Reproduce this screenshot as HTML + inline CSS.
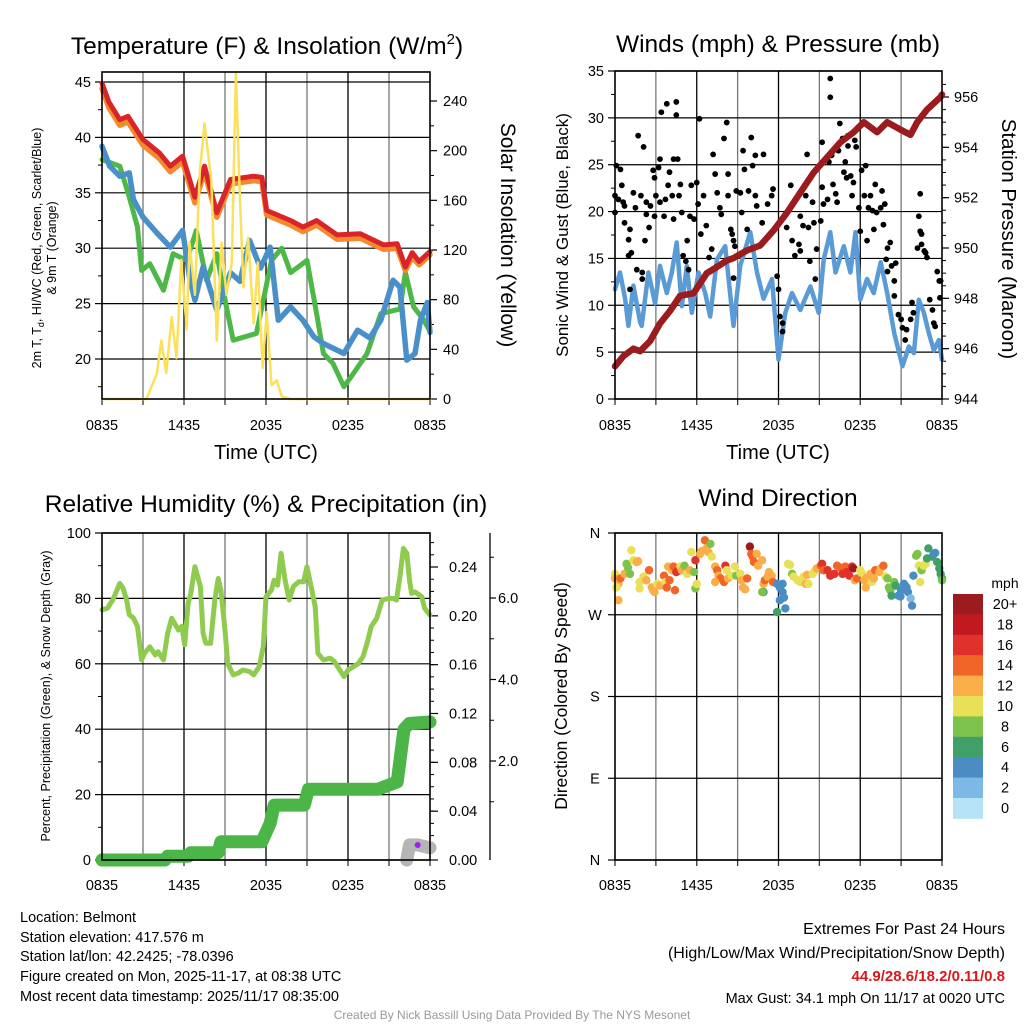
<!DOCTYPE html>
<html><head><meta charset="utf-8"><title>Belmont Meteogram</title>
<style>
html,body{margin:0;padding:0;background:#fff;}
svg{display:block;font-family:"Liberation Sans",Arial,sans-serif;}
</style></head>
<body>
<svg id="chart" width="1024" height="1024" viewBox="0 0 1024 1024" xmlns="http://www.w3.org/2000/svg">
<rect x="0" y="0" width="1024" height="1024" fill="#fff"/>
<text x="267" y="54" font-size="24.5" text-anchor="middle">Temperature (F) &amp; Insolation (W/m<tspan dy="-10" font-size="15">2</tspan><tspan dy="10">)</tspan></text>
<text x="778" y="52" font-size="24.5" text-anchor="middle">Winds (mph) &amp; Pressure (mb)</text>
<text x="266" y="512" font-size="24.5" text-anchor="middle">Relative Humidity (%) &amp; Precipitation (in)</text>
<text x="778" y="506" font-size="24.5" text-anchor="middle">Wind Direction</text>

<text x="266" y="459" font-size="20" text-anchor="middle">Time (UTC)</text>
<text x="778" y="459" font-size="20" text-anchor="middle">Time (UTC)</text>

<text transform="translate(41,248) rotate(-90)" font-size="12.5" text-anchor="middle">2m T, T<tspan font-size="9" dy="3">d</tspan><tspan dy="-3">, HI/WC (Red, Green, Scarlet/Blue)</tspan></text>
<text transform="translate(56,248) rotate(-90)" font-size="12.5" text-anchor="middle">&amp; 9m T (Orange)</text>
<text transform="translate(501,235) rotate(90)" font-size="21" text-anchor="middle">Solar Insolation (Yellow)</text>
<text transform="translate(568,235) rotate(-90)" font-size="17" text-anchor="middle">Sonic Wind &amp; Gust (Blue, Black)</text>
<text transform="translate(1002,239) rotate(90)" font-size="20.5" text-anchor="middle">Station Pressure (Maroon)</text>
<text transform="translate(50,696) rotate(-90)" font-size="12.5" text-anchor="middle">Percent, Precipitation (Green), &amp; Snow Depth (Gray)</text>
<text transform="translate(567,696) rotate(-90)" font-size="17.5" text-anchor="middle">Direction (Colored By Speed)</text>

<g font-size="14.5">
<text x="20" y="922">Location: Belmont</text>
<text x="20" y="942">Station elevation: 417.576 m</text>
<text x="20" y="961">Station lat/lon: 42.2425; -78.0396</text>
<text x="20" y="981">Figure created on Mon, 2025-11-17, at 08:38 UTC</text>
<text x="20" y="1001">Most recent data timestamp: 2025/11/17 08:35:00</text>
</g>
<g text-anchor="end">
<text x="1005" y="934" font-size="16">Extremes For Past 24 Hours</text>
<text x="1005" y="958" font-size="16">(High/Low/Max Wind/Precipitation/Snow Depth)</text>
<text x="1005" y="981" font-size="15" font-weight="bold" fill="#d7191c">44.9/28.6/18.2/0.11/0.8</text>
<text x="1005" y="1003" font-size="14.5">Max Gust: 34.1 mph On 11/17 at 0020 UTC</text>
</g>
<text x="512" y="1019" font-size="12" fill="#999" text-anchor="middle">Created By Nick Bassill Using Data Provided By The NYS Mesonet</text>
<text x="1005" y="588" font-size="14" text-anchor="middle">mph</text>
</svg>
<script>
// ---------- DATA ----------
const timeTickLabels = ["0835","1435","2035","0235","0835"];
const redHours = [0,0.5,1.3,1.9,3,4.2,5,5.9,6.8,7.5,8.4,9.4,11.1,11.7,12.05,13.8,14.7,15.7,17.2,18.9,20.6,21.6,22.2,22.7,23.2,24];
const redTemp = [44.9,43.2,41.6,41.9,39.8,38.6,37.4,38.3,34.6,37.4,33.2,36.2,36.5,36.4,33.4,32.5,31.9,32.5,31.2,31.3,30.3,30.4,28.3,29.6,28.8,29.7];
const orangeTemp = [44.4,42.7,41.1,41.4,39.3,38.1,36.9,37.8,34.1,36.9,32.8,35.8,36.1,36.0,33.0,32.1,31.5,32.1,30.8,30.9,29.9,30.0,28.0,29.2,28.5,29.4];
const dewHours = [0,0.56,1.3,2,2.3,3,4,5,5.9,6.4,6.8,7.4,8.4,9.4,10.1,10.8,11.6,12.3,12.9,13.8,14.7,15.5,16.2,17.7,18.7,19.6,20.4,21.3,21.8,22.3,22.9,23.3,23.8,24];
const dewTemp = [39.2,37.4,36.5,36.8,34.4,32.8,31.4,30.1,31.6,27.4,25.3,28.3,24.4,27.8,27,30.7,28.2,30.1,23.5,24.7,23.5,22,21.4,20.5,22.6,21.9,23.5,27.1,26.5,19.9,20.5,23.5,25.1,22.4];
const hiwcHours = [0,1.3,2,2.6,2.9,3.5,4.5,5.2,6.2,6.9,7.65,8.4,9.1,9.6,11.3,11.8,12.4,13.15,13.8,15,15.7,16.2,16.9,17.7,18.4,19.4,20.4,21.8,22.2,22.8,23.5,24];
const hiwcTemp = [38,37.4,34.6,31.9,28,28.6,26.2,29.5,28.9,31.6,27.1,29.5,24.7,21.7,22.3,25.3,28.9,30,27.8,28.9,24.1,20.5,19.6,17.5,18.7,20.5,24.1,24.5,27.8,24.7,23.6,22.5];
const solarHours = [0,3.25,4,4.35,4.7,5.1,5.45,5.8,6.2,6.4,6.8,7.15,7.5,8,8.4,8.75,9.1,9.5,9.8,10.05,10.35,10.7,11.1,11.4,11.75,12.05,12.4,12.8,13.15,13.8,24];
const solarWm2 = [0,0,20,47,21,66,33,112,56,126,84,182,222,176,47,126,84,110,262,176,90,130,61,110,25,70,11,15,2,0,0];
const tempTicks = [20,25,30,35,40,45];
const solarTicks = [0,40,80,120,160,200,240];

const windHours = [0,0.37,0.74,0.98,1.35,1.84,1.96,2.45,2.94,3.3,3.8,4.17,4.53,4.9,5.27,5.64,6.13,6.62,6.99,7.48,8.09,8.7,9.19,9.93,10.42,10.9,11.52,12.0,12.5,12.99,13.6,14.34,14.95,15.32,15.8,16.18,16.79,17.28,17.65,18.0,18.5,18.99,19.5,19.98,20.5,21.1,21.57,21.94,22.3,22.67,23.04,23.4,23.77,24];
const windMph = [11.7,13.5,10.7,7.8,12.1,8.2,7.8,13.5,10.2,14.2,11.3,13.5,16.7,9.9,14.2,9.2,13.5,11.3,8.8,14.9,16.3,7.8,14.2,17.8,13.5,10.7,12.8,4.2,9.2,11.3,9.5,12.0,9.2,14.9,17.8,13.5,16.3,13.5,17.8,10.6,12.8,11.3,14.6,11.3,7.0,3.5,5.6,4.9,10.6,9.2,7.0,5.2,6.3,4.2];
const gustHours = [0,0,0.1,0.4,0.25,0.5,0.6,0.7,0.7,1,1.1,1,1.2,1.1,1.35,1.5,1.7,1.9,1.6,2,2,2.1,2.2,2.3,2.3,2.5,2.6,2.8,2.9,2.9,3,3.2,3.3,3.3,3.4,3.6,3.7,3.8,3.9,4,4.3,4.2,4.3,4.5,4.5,4.6,4.8,4.7,4.9,5,5.2,5.3,5.4,5.5,5.6,5.8,6,6.1,6.2,6.3,6.5,6.7,6.9,7.1,7.2,7.35,7.5,7.7,7.8,8,8.2,8.3,8.3,8.5,8.6,8.7,8.8,8.7,8.9,9.2,9.3,9.4,9.5,9.7,9.8,10,10.1,10.3,10.3,10.4,10.8,10.9,11.2,11.5,11.6,11.9,12,12.1,12.3,12.3,12.6,12.9,13,13.2,13.5,13.6,13.6,13.8,14,14.1,14.2,14.3,14.5,14.6,14.7,14.8,15.1,15.2,15.2,15.3,15.6,15.7,15.8,15.8,15.9,16,16.2,16.3,16.4,16.5,16.7,16.8,16.9,17,17.1,17.1,17.3,17.4,17.5,17.6,17.7,17.9,18,18.1,18.3,18.4,18.5,18.6,18.75,18.9,19,19.1,19.2,19.5,19.6,19.7,19.8,19.9,20,20,20.2,20.3,20.5,20.6,20.5,20.8,21,21.1,21.3,21.4,21.7,21.8,21.9,22.2,22.3,22.4,22.4,22.5,22.5,22.7,22.8,22.9,23.1,23.3,23.4,23.5,23.65,23.8,23.85,23.9];
const gustMph = [19.9,21.7,24.9,24.5,21.3,22.8,21,20.6,18.8,17,18.1,15.3,15.6,11.7,22,20.4,28.1,21.7,13.8,13.5,12.8,26.9,16.9,21,19.7,18.3,20.6,24.4,23.6,19.5,21.7,24.7,25.6,21,30.6,19.5,21.3,31.5,22.8,24.2,19.2,21.7,25.6,31.7,30.3,25.6,22.9,21.7,19.9,15.3,14.7,16.9,13.8,19.5,22.8,19.2,23.1,20.8,29.9,17.6,21.7,18.5,15.1,16,26.1,24,22,20.4,19.7,27.8,29.5,24,21.7,18.1,17.6,16.9,16.3,12.9,22.2,22,19.9,26.5,24.5,18.1,22.2,27.9,24.9,26,21.7,20.6,18.8,26.1,20.8,21.7,22.4,13.1,11.7,8.8,8.1,7.2,18.3,22.8,16.9,15.3,16.5,19.5,15.8,18.5,21.7,26.1,18.3,14.7,21,18.8,12.8,16,19,22.6,27.4,20.8,21.3,25.3,34.2,32.2,26,22.9,21.9,21,26.5,29.4,27.8,24.2,25.3,23.6,28.1,27,23.8,21.7,23.1,27.6,26.9,20.4,17.9,24.4,21.7,24.9,16.9,20.4,21.7,20.1,18.1,22.9,19.9,20.4,22.2,18.6,20.8,14.9,16.1,13.6,16.7,14.2,12.6,14.5,11,9,8.5,7.6,6.3,7.4,8.5,10.3,9.2,16.1,19.5,21.9,17.9,17.6,16.5,15.8,15.6,15.1,10.6,9.5,8.1,7.75,13.6,12.6,10.8,12.6];
const pressHours = [0,0.61,1.35,1.84,2.57,3.3,4.04,4.78,5.76,6.74,7.35,8.2,8.7,9.68,10.66,11.64,12.62,13.6,14.58,15.56,16.54,17.52,18.26,19.24,19.98,20.96,21.69,22.18,22.9,23.9,24];
const pressMb = [945.3,945.7,946,945.9,946.3,947,947.5,948.1,948.2,949,949.2,949.5,949.6,949.9,950.1,950.7,951.4,952.2,953,953.6,954.2,954.6,955,954.6,955,954.7,954.5,955,955.5,956,956.1];
const windTicks = [0,5,10,15,20,25,30,35];
const pressTicks = [944,946,948,950,952,954,956];

const rhHours = [0,0.4,0.8,1.3,1.55,1.8,2,2.3,2.6,2.9,3.1,3.5,3.9,4.1,4.5,4.8,5.1,5.6,5.85,6.05,6.3,6.5,6.8,7.2,7.4,7.6,7.95,8.25,8.5,8.7,9,9.2,9.6,9.95,10.3,10.8,11.1,11.5,11.8,12,12.4,12.6,12.85,13.1,13.4,13.7,14,14.4,14.75,15,15.3,15.6,15.8,16.2,16.7,17,17.4,17.7,18,18.4,18.75,19.1,19.4,19.7,20.1,20.5,21,21.3,21.55,21.8,22.05,22.3,22.5,22.65,22.9,23.4,23.6,24];
const rhPct = [76.5,77,79.6,84.6,83,79.5,75,74,71.4,61.2,63.2,65.2,62.7,63.7,61.2,69.3,73.9,70.3,71.5,65.8,78.5,81.5,89.7,83.6,69.3,66.3,66.3,79.5,86.1,82.6,70.3,60.1,56.6,57.1,58.1,57.6,56.6,59.1,65.2,80.5,82.6,85.6,84,93.8,85.6,79.5,83.6,85.1,85.1,89.7,83.6,77.5,63.2,61.2,61.7,60.7,58.1,56.1,58.1,59.1,60.1,62.2,66.3,71.4,73.9,79.5,80,80,79.5,86.6,95.3,93.8,85.6,81.5,82,80.5,77,74.9];
const precipHours = [0,4.6,4.8,6.3,6.5,8.5,8.7,11.7,11.9,12.3,12.6,14.8,15.1,20.2,21.6,21.9,22.1,22.5,24];
const precipIn = [0,0,0.003,0.003,0.006,0.006,0.015,0.015,0.02,0.03,0.045,0.045,0.058,0.058,0.064,0.09,0.107,0.112,0.113];
const snowHours = [22.3,22.5,23.1,24];
const snowIn = [-0.43,-0.06,-0.06,-0.13];
const rhTicks = [0,20,40,60,80,100];
const precipTicks = [0,0.04,0.08,0.12,0.16,0.20,0.24];
const snowTicks = [2,4,6];

const dirHours = [0,0,0.25,0.4,0.25,0.1,0.7,0.85,0.95,1.1,1.2,1.35,1.6,1.7,1.8,1.8,2.1,2.3,2.5,2.7,2.8,2.9,3.1,3.3,3.6,3.7,3.8,3.9,4.0,4.2,4.3,4.4,4.5,4.6,4.8,4.9,5.1,5.3,5.5,5.6,5.8,5.9,6.0,5.9,6.25,6.35,6.6,6.7,6.85,7.0,7.1,7.35,7.5,7.6,7.75,7.35,8,8.1,8.2,8.3,8.55,8.8,8.9,9.2,9.3,9.4,9.55,9.7,9.9,10,10.1,10.2,10.4,10.5,10.8,10.9,11,11.2,11.3,11.5,11.6,10.9,10.8,11.9,12.1,12.3,12.1,12.4,12.5,11.9,12.3,12.7,12.85,13,13.1,13.4,13.6,13.85,14,14.1,14.2,14.5,14.6,14.8,15.1,15.2,15.3,15.6,15.8,16.1,16.3,16.5,16.7,16.9,17,17.2,17.4,17.5,17.6,17.75,18,18.1,18.3,18.4,18.5,18.75,18.85,19,19.1,19.4,19.5,19.7,19.85,20,20.1,20.2,20.3,20.5,20.6,20.8,20.95,21,21.2,21.3,21.4,21.5,21.7,21.8,21.9,22.1,22.2,22.3,22.4,22.5,22.65,22.8,22.9,23,23.3,23.4,23.5,23.65,23.8,23.9,24,24];
const dirDeg = [315,310,304,310,286,300,315,326,322,315,341,330,328,329,306,299,312,308,319,300,297,295,304,302,313,306,300,323,308,319,323,297,317,318,323,319,324,315,319,339,317,299,304,330,337,340,352,343,339,348,334,323,319,313,310,306,306,324,319,310,313,323,313,315,308,300,298,310,345,337,334,328,337,324,330,304,308,312,317,313,306,295,295,304,300,295,286,289,277,273,304,326,325,315,312,308,306,312,304,314,304,315,317,321,324,326,319,319,313,315,324,322,315,323,317,313,323,321,308,310,319,316,308,300,311,315,306,310,319,317,321,324,312,310,300,297,291,306,302,291,290,297,304,302,300,295,288,280,313,335,337,324,306,319,324,326,332,343,334,337,338,328,321,315,310,308];
const dirSpeed = [10,12,12,14,12,10,12,8,8,8,10,10,12,12,10,10,10,12,14,12,12,12,10,12,14,10,14,12,14,12,14,14,16,16,10,12,8,10,12,10,8,8,10,16,12,12,14,12,12,8,10,12,14,12,14,12,14,16,10,12,10,10,8,10,12,12,12,14,20,14,14,14,12,12,12,12,14,12,12,12,14,6,8,4,4,4,4,4,4,6,4,10,10,8,10,10,10,10,12,12,10,10,10,12,14,16,14,16,16,16,14,14,16,14,16,16,16,20,12,14,10,10,12,12,12,12,10,12,14,12,12,14,10,8,8,8,6,8,6,4,4,4,4,4,4,4,2,4,4,8,8,10,10,8,10,10,6,6,6,4,4,6,6,6,6,8];
const dirTickLabels = ["N","E","S","W","N"];
const speedBins = ["0","2","4","6","8","10","12","14","16","18","20+"];
const speedColors = ["#b6e3f8","#7db9e6","#4a8cc4","#41a06a","#7dc24a","#e8e157","#fbad47","#f26529","#e0322a","#c0191f","#9b1b1e"];

// ---------- HELPERS ----------
const NS = "http://www.w3.org/2000/svg";
const svg = document.getElementById("chart");
function mk(tag, attrs, parent) {
  const el = document.createElementNS(NS, tag);
  for (const k in attrs) el.setAttribute(k, attrs[k]);
  (parent || svg).appendChild(el);
  return el;
}
function group(name) {
  const g = mk("g", {});
  
  
  return g;
}
function linScale(d0, d1, r0, r1) { return v => r0 + (v - d0) * (r1 - r0) / (d1 - d0); }
function seg(g, x1, y1, x2, y2, stroke, w, name) {
  const el = mk("line", {x1: x1, y1: y1, x2: x2, y2: y2, stroke: stroke, "stroke-width": w}, g);
  
  
  return el;
}
function label(g, x, y, str, anchor, size, name) {
  const el = mk("text", {x: x, y: y, "text-anchor": anchor, "font-size": size}, g);
  el.textContent = str;
  
  
  return el;
}
function series(g, hrs, vals, xs, ys, color, w, name) {
  let d = "";
  for (let i = 0; i < hrs.length; i++) d += (i ? "L" : "M") + xs(hrs[i]).toFixed(1) + "," + ys(vals[i]).toFixed(1);
  const el = mk("path", {d: d, fill: "none", stroke: color, "stroke-width": w, "stroke-linejoin": "round", "stroke-linecap": "round"}, g);
  
  
  return el;
}
function frame(g, x0, x1, y0, y1, xs, labelY, prefix) {
  for (let h = 3; h < 24; h += 3) seg(g, xs(h), y0, xs(h), y1, (h % 6 === 0) ? "#000" : "#777", 1.3, prefix + "-v-grid");
  for (let h = 0; h <= 24; h += 3) seg(g, xs(h), y1, xs(h), y1 + 6, "#333", 1.3, prefix + "-x-tick");
  for (let i = 0; i < timeTickLabels.length; i++) label(g, xs(i * 6), labelY, timeTickLabels[i], "middle", 14.5, prefix + "-x-tick-label");
}
function box(g, x0, x1, y0, y1, name) {
  const el = mk("rect", {x: x0, y: y0, width: x1 - x0, height: y1 - y0, fill: "none", stroke: "#000", "stroke-width": 1.6}, g);
  
  
}

// ---------- PANEL 1: TEMPERATURE ----------
(function () {
  const g = group("temperature-panel");
  const x0 = 102, x1 = 430, y0 = 72, y1 = 399;
  const xs = linScale(0, 24, x0, x1);
  const yT = linScale(45, 20, 82, 359);
  const yS = linScale(0, 240, 399, 101);
  frame(g, x0, x1, y0, y1, xs, 430, "temp");
  for (const t of tempTicks) { seg(g, x0, yT(t), x1, yT(t), "#000", 1.2, "temp-h-grid"); seg(g, x0 - 7, yT(t), x0, yT(t), "#000", 1.2, "temp-y-tick"); label(g, x0 - 11, yT(t) + 5, String(t), "end", 14.5, "temp-y-tick-label"); }
  for (let t = 17.5; t < 46; t += 5) seg(g, x0 - 4, yT(t), x0, yT(t), "#000", 1, "temp-y-minor-tick");
  for (const s of solarTicks) { seg(g, x1, yS(s), x1 + 7, yS(s), "#000", 1.2, "solar-y-tick"); label(g, x1 + 13, yS(s) + 5, String(s), "start", 14.5, "solar-y-tick-label"); }
  for (let s = 20; s < 260; s += 40) seg(g, x1, yS(s), x1 + 4, yS(s), "#000", 1, "solar-y-minor-tick");
  series(g, hiwcHours, hiwcTemp, xs, yT, "#4db848", 5, "hiwc-line");
  series(g, dewHours, dewTemp, xs, yT, "#4a90c8", 5.5, "dewpoint-line");
  series(g, redHours, orangeTemp, xs, yT, "#f58a2c", 5.5, "temp-9m-line");
  series(g, redHours, redTemp, xs, yT, "#d9252a", 5, "temp-2m-line");
  series(g, solarHours, solarWm2, xs, yS, "#fbe05c", 2.5, "solar-line");
  box(g, x0, x1, y0, y1, "temp-plot-frame");
})();

// ---------- PANEL 2: WINDS ----------
(function () {
  const g = group("wind-panel");
  const x0 = 615, x1 = 942, y0 = 71, y1 = 399;
  const xs = linScale(0, 24, x0, x1);
  const yW = linScale(0, 35, 399, 71);
  const yP = linScale(944, 956, 399, 97);
  frame(g, x0, x1, y0, y1, xs, 430, "wind");
  for (const t of windTicks) { seg(g, x0, yW(t), x1, yW(t), "#000", 1.2, "wind-h-grid"); seg(g, x0 - 7, yW(t), x0, yW(t), "#000", 1.2, "wind-y-tick"); label(g, x0 - 11, yW(t) + 5, String(t), "end", 14.5, "wind-y-tick-label"); }
  for (let t = 2.5; t < 35; t += 5) seg(g, x0 - 4, yW(t), x0, yW(t), "#000", 1, "wind-y-minor-tick");
  for (const p of pressTicks) { seg(g, x1, yP(p), x1 + 7, yP(p), "#000", 1.2, "pressure-y-tick"); label(g, x1 + 12, yP(p) + 5, String(p), "start", 14.5, "pressure-y-tick-label"); }
  for (let p = 944.5; p < 957; p += 0.5) seg(g, x1, yP(p), x1 + 4, yP(p), "#000", 1, "pressure-y-minor-tick");
  series(g, windHours, windMph, xs, yW, "#5a9bd5", 4.5, "sonic-wind-line");
  for (let i = 0; i < gustHours.length; i++) {
    const c = mk("circle", {cx: xs(gustHours[i]), cy: yW(gustMph[i]), r: 2.9, fill: "#000"}, g);
    
    
  }
  series(g, pressHours, pressMb, xs, yP, "#9b1b1e", 6.5, "pressure-line");
  box(g, x0, x1, y0, y1, "wind-plot-frame");
})();

// ---------- PANEL 3: RH / PRECIP ----------
(function () {
  const g = group("rh-panel");
  const x0 = 102, x1 = 430, y0 = 533, y1 = 860;
  const xs = linScale(0, 24, x0, x1);
  const yR = linScale(0, 100, 860, 533);
  const yPr = linScale(0, 0.24, 860, 567);
  const ySn = linScale(0, 2, 842.5, 761);
  frame(g, x0, x1, y0, y1, xs, 890, "rh");
  for (const t of rhTicks) { seg(g, x0, yR(t), x1, yR(t), "#000", 1.2, "rh-h-grid"); seg(g, x0 - 7, yR(t), x0, yR(t), "#000", 1.2, "rh-y-tick"); label(g, x0 - 11, yR(t) + 5, String(t), "end", 14.5, "rh-y-tick-label"); }
  for (let t = 10; t < 100; t += 20) seg(g, x0 - 4, yR(t), x0, yR(t), "#000", 1, "rh-y-minor-tick");
  for (const p of precipTicks) { seg(g, x1, yPr(p), x1 + 8, yPr(p), "#000", 1.2, "precip-y-tick"); label(g, x1 + 19, yPr(p) + 5, p.toFixed(2), "start", 14.5, "precip-y-tick-label"); }
  for (let p = 0.01; p < 0.27; p += 0.01) seg(g, x1, yPr(p), x1 + 4, yPr(p), "#000", 1, "precip-y-minor-tick");
  seg(g, 490, 533, 490, 860, "#000", 1.3, "snow-axis-line");
  for (const s of snowTicks) { seg(g, 490, ySn(s), 496, ySn(s), "#000", 1.2, "snow-y-tick"); label(g, 498, ySn(s) + 5, s.toFixed(1), "start", 14.5, "snow-y-tick-label"); }
  for (let s = 1; s < 8; s += 2) seg(g, 490, ySn(s), 494, ySn(s), "#000", 1, "snow-y-minor-tick");
  series(g, rhHours, rhPct, xs, yR, "#8fcb4f", 5, "rh-line");
  series(g, precipHours, precipIn, xs, yPr, "#4bb548", 13, "precip-line");
  series(g, snowHours, snowIn, xs, ySn, "#b5b5b5", 13, "snow-depth-line");
  const pd = mk("circle", {cx: xs(23.1), cy: ySn(-0.06), r: 3, fill: "#a020f0"}, g);
  
  
  box(g, x0, x1, y0, y1, "rh-plot-frame");
})();

// ---------- PANEL 4: DIRECTION ----------
(function () {
  const g = group("direction-panel");
  const x0 = 615, x1 = 942, y0 = 533, y1 = 860;
  const xs = linScale(0, 24, x0, x1);
  const yD = linScale(0, 360, 860, 533);
  frame(g, x0, x1, y0, y1, xs, 890, "dir");
  for (let i = 0; i < dirTickLabels.length; i++) { const v = i * 90; seg(g, x0, yD(v), x1, yD(v), "#000", 1.2, "dir-h-grid"); seg(g, x0 - 7, yD(v), x0, yD(v), "#000", 1.2, "dir-y-tick"); label(g, x0 - 20, yD(v) + 5, dirTickLabels[i], "middle", 14.5, "dir-y-tick-label"); }
  for (let i = 0; i < dirHours.length; i++) {
    const bin = Math.max(0, Math.min(10, Math.round(dirSpeed[i] / 2)));
    const c = mk("circle", {cx: xs(dirHours[i]), cy: yD(dirDeg[i]), r: 4.2, fill: speedColors[bin]}, g);
    
    
  }
  box(g, x0, x1, y0, y1, "dir-plot-frame");
  const lg = group("speed-colorbar");
  const top = 594, h = 20.4;
  for (let i = 0; i < speedBins.length; i++) {
    const k = speedBins.length - 1 - i;
    const r = mk("rect", {x: 953, y: top + i * h, width: 30, height: h + 0.5, fill: speedColors[k]}, lg);
    
    
    label(lg, 1005, top + i * h + 15, speedBins[k], "middle", 14.5, "colorbar-label");
  }
})();
</script>
</body></html>
